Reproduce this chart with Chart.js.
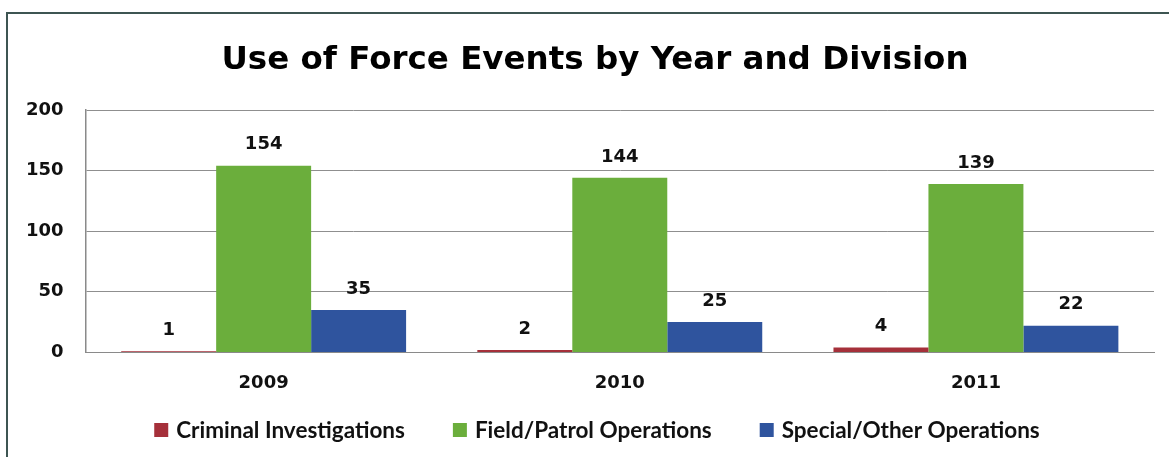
<!DOCTYPE html>
<html>
<head>
<meta charset="utf-8">
<script src="https://cdn.jsdelivr.net/npm/chart.js@4"></script>
<style>
  html, body { margin: 0; padding: 0; background: #fff; }
  #wrap { width: 1169px; height: 457px; position: relative; }
</style>
</head>
<body>
<div id="wrap"><canvas id="chart" width="1169" height="457"></canvas></div>
<script>
// Datos del gráfico
const years = ["2009", "2010", "2011"];
const criminalInvestigations = [1, 2, 4];
const fieldPatrolOperations = [154, 144, 139];
const specialOtherOperations = [35, 25, 22];
const seriesNames = ["Criminal Investigations", "Field/Patrol Operations", "Special/Other Operations"];
const seriesColors = ["#A5303A", "#6BAE3C", "#2F549E"];
const chartTitle = "Use of Force Events by Year and Division";

// Marco exterior y título (el título del original no está centrado en el lienzo)
const framePlugin = {
  id: "frame",
  beforeDraw(chart) {
    const ctx = chart.ctx;
    ctx.save();
    ctx.strokeStyle = "#3d5552";
    ctx.lineWidth = 2;
    ctx.beginPath();
    ctx.moveTo(7, 457);
    ctx.lineTo(7, 13);
    ctx.lineTo(1169, 13);
    ctx.stroke();
    ctx.fillStyle = "#000";
    ctx.font = "bold 32.5px 'DejaVu Sans'";
    ctx.textAlign = "center";
    ctx.textBaseline = "middle";
    ctx.fillText(chartTitle, 595, 61);
    ctx.restore();
  },
};

// Etiquetas de valor encima de cada barra
const valueLabels = {
  id: "valueLabels",
  afterDatasetsDraw(chart) {
    const ctx = chart.ctx;
    ctx.save();
    ctx.fillStyle = "#111";
    ctx.font = "bold 18px 'DejaVu Sans'";
    ctx.textAlign = "center";
    ctx.textBaseline = "middle";
    chart.data.datasets.forEach((ds, i) => {
      chart.getDatasetMeta(i).data.forEach((bar, j) => {
        ctx.fillText(String(ds.data[j]), bar.x, bar.y - 21);
      });
    });
    ctx.restore();
  },
};

// Leyenda inferior dibujada a mano (espaciado como el original)
const bottomLegend = {
  id: "bottomLegend",
  afterDraw(chart) {
    const ctx = chart.ctx;
    const box = 14;
    const gap = 8;
    const spacing = 48;
    const centerX = 597;
    const y = 430;
    ctx.save();
    ctx.font = "bold 22.5px Lato";
    ctx.textBaseline = "middle";
    const items = chart.data.datasets.map((ds) => ({
      text: ds.label,
      color: ds.backgroundColor,
      w: box + gap + ctx.measureText(ds.label).width,
    }));
    const total = items.reduce((s, it) => s + it.w, 0) + spacing * (items.length - 1);
    let x = centerX - total / 2;
    items.forEach((it) => {
      ctx.fillStyle = it.color;
      ctx.fillRect(x, y - box / 2, box, box);
      ctx.fillStyle = "#111";
      ctx.fillText(it.text, x + box + gap, y + 1);
      x += it.w + spacing;
    });
    ctx.restore();
  },
};

const ctx = document.getElementById("chart").getContext("2d");
new Chart(ctx, {
  type: "bar",
  data: {
    labels: years,
    datasets: [criminalInvestigations, fieldPatrolOperations, specialOtherOperations].map((d, i) => ({
      label: seriesNames[i],
      data: d,
      backgroundColor: seriesColors[i],
      borderWidth: 0,
      categoryPercentage: 0.8,
      barPercentage: 1.0,
    })),
  },
  options: {
    responsive: false,
    animation: false,
    layout: { padding: { left: 4, right: 15, top: 110, bottom: 43 } },
    scales: {
      x: {
        grid: { display: false, drawTicks: false },
        border: { display: true, color: "#8a8a8a", width: 1 },
        ticks: {
          color: "#111",
          padding: 20,
          font: { family: "DejaVu Sans", size: 18, weight: "bold" },
        },
      },
      y: {
        min: 0,
        max: 200,
        ticks: {
          stepSize: 50,
          color: "#111",
          padding: 22,
          font: { family: "DejaVu Sans", size: 18, weight: "bold" },
        },
        grid: { color: "#8f8f8f", lineWidth: 1, drawTicks: false },
        border: { display: true, color: "#8a8a8a", width: 1.5 },
      },
    },
    plugins: {
      title: { display: false },
      legend: { display: false },
      tooltip: { enabled: false },
    },
  },
  plugins: [framePlugin, valueLabels, bottomLegend],
});
</script>
</body>
</html>
